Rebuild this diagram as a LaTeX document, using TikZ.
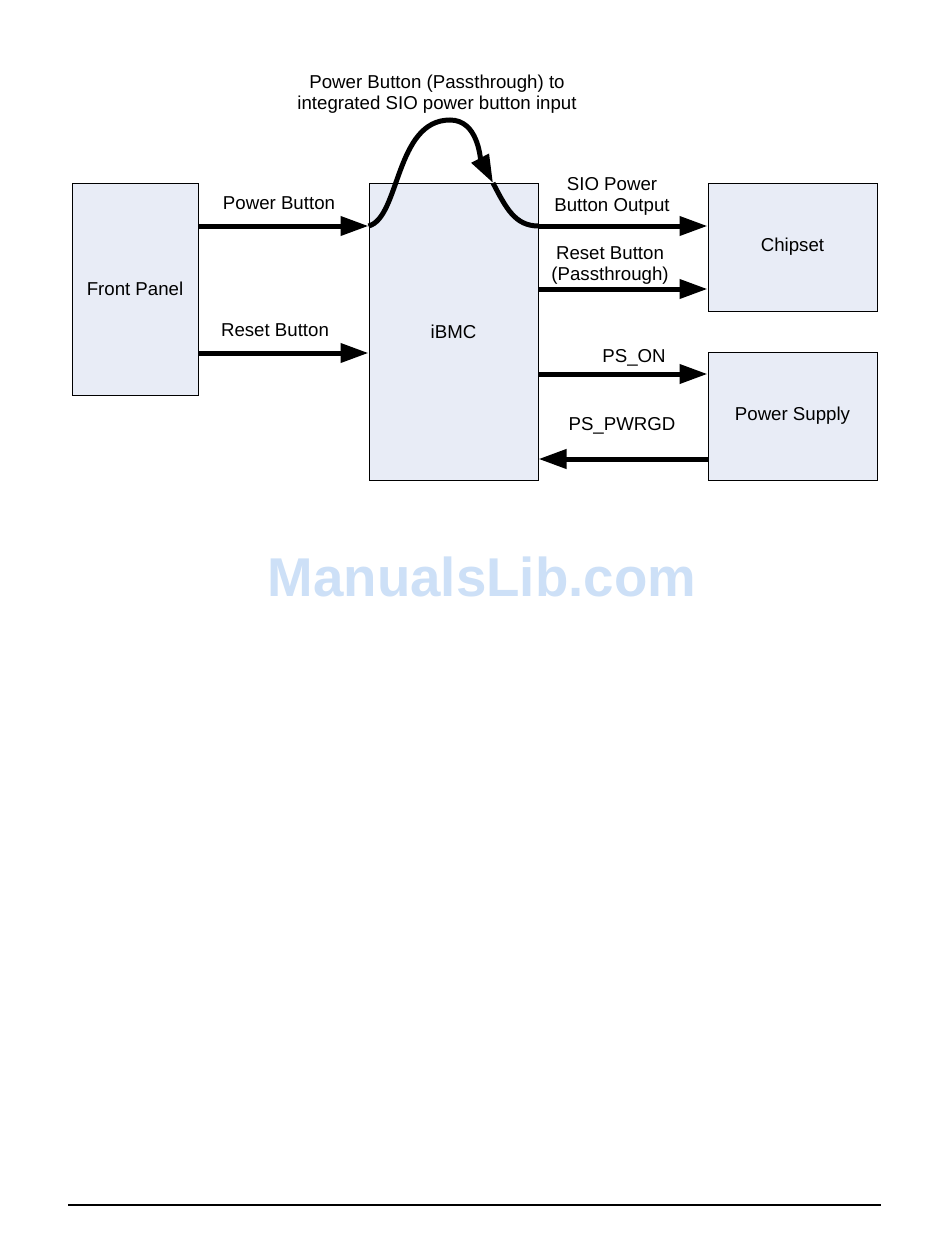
\documentclass[tikz,border=0pt]{standalone}
\usepackage{fontspec}
\setmainfont{Liberation Sans}
\usepackage{xcolor}
\usetikzlibrary{arrows.meta}

\definecolor{boxfill}{RGB}{232,236,246}
\definecolor{wmark}{RGB}{205,224,247}

\begin{document}
\begin{tikzpicture}[
    x=0.75pt, y=-0.75pt,
    font=\fontsize{14}{15.75}\selectfont,
    >={Triangle[length=21pt,width=14pt]},
    block/.style={draw, line width=0.75pt, fill=boxfill, inner sep=0pt},
    sig/.style={->, line width=3.75pt},
    lbl/.style={align=center, inner sep=0pt}
]

    % Page frame
    \useasboundingbox[fill=white] (0,0) rectangle (950,1260);

    % Blocks
    \node[block, minimum width=94.5pt, minimum height=159pt] (fp) at (135,289) {Front Panel};
    \node[block, minimum width=126.75pt, minimum height=222.75pt] (ibmc) at (453.5,331.5) {iBMC};
    \node[block, minimum width=126.75pt, minimum height=96pt] (chip) at (792.5,247) {Chipset};
    \node[block, minimum width=126.75pt, minimum height=96pt] (psu) at (792.5,416) {Power Supply};

    % Signal levels
    \coordinate (yPwr)  at (0,226);
    \coordinate (yRst)  at (0,353);
    \coordinate (yRstP) at (0,289);
    \coordinate (yOn)   at (0,374);
    \coordinate (yGd)   at (0,459);
    \coordinate (tip)   at (493,183);

    % Front panel inputs
    \draw[sig] (fp.east |- yPwr) -- (ibmc.west |- yPwr);
    \draw[sig] (fp.east |- yRst) -- (ibmc.west |- yRst);

    % Passthrough loop (arrow tip half way along)
    \draw[sig] (ibmc.west |- yPwr) .. controls (400,218) and (395,120) .. (450,120)
        .. controls (478,120) and (480,158) .. (tip);
    \draw[line width=3.75pt] (tip) .. controls (506,208) and (515,226) .. (ibmc.east |- yPwr);

    % Outputs to chipset and power supply
    \draw[sig] (ibmc.east |- yPwr)  -- (chip.west |- yPwr);
    \draw[sig] (ibmc.east |- yRstP) -- (chip.west |- yRstP);
    \draw[sig] (ibmc.east |- yOn)   -- (psu.west |- yOn);
    \draw[sig] (psu.west |- yGd)    -- (ibmc.east |- yGd);

    % Labels
    \node[lbl] (tLoop) at (437,94)  {Power Button (Passthrough) to\\integrated SIO power button input};
    \node[lbl] (tPwr)  at (279,203) {Power Button};
    \node[lbl] (tRst)  at (275,330) {Reset Button};
    \node[lbl] (tSio)  at (612,196) {SIO Power\\Button Output};
    \node[lbl] (tRstP) at (610,266) {Reset Button\\(Passthrough)};
    \node[lbl] (tOn)   at (634,358) {PS\_ON};
    \node[lbl] (tGd)   at (622,426) {PS\_PWRGD};

    % Watermark
    \node[text=wmark, font=\fontsize{41}{41}\selectfont\bfseries] (wm) at (482,577) {ManualsLib.com};

    % Footer rule
    \coordinate (rl) at (68,1205);
    \coordinate (rr) at (881,1205);
    \draw[line width=1.5pt] (rl) -- (rr);

\end{tikzpicture}
\end{document}
